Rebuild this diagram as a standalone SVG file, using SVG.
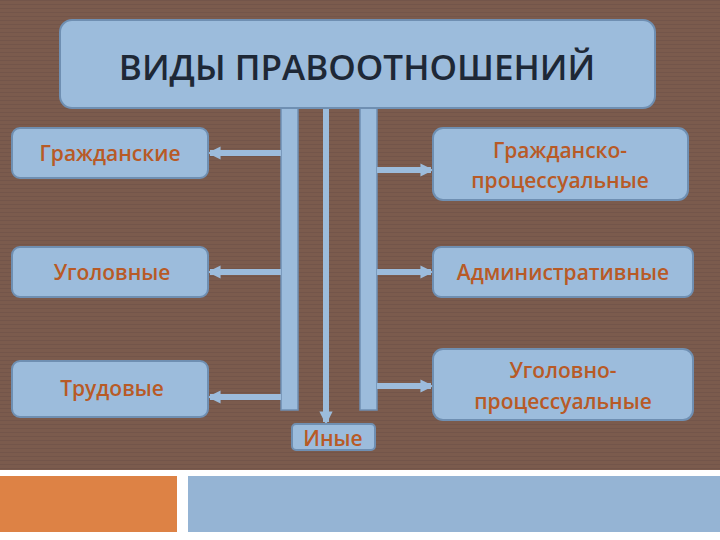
<svg xmlns="http://www.w3.org/2000/svg" width="720" height="540" viewBox="0 0 720 540">
<defs>
<style>
.n{fill:#9cbcdc;stroke:#6f8fb2;stroke-width:2}
.t{font-family:"Open Sans","DejaVu Sans",sans-serif;font-size:21px;font-weight:600;fill:#b85a26;text-anchor:middle}
.bar{fill:#9cbcdc;stroke:#6f8fb2;stroke-width:1.5}
.ar{stroke:#9cbcdc;stroke-width:6;fill:none}
</style>
<marker id="ah" viewBox="0 0 10 10" refX="8" refY="5" markerWidth="2.2" markerHeight="2.2" orient="auto"><path d="M0,0L10,5L0,10z" fill="#9cbcdc"/></marker>
<pattern id="st" width="4" height="4" patternUnits="userSpaceOnUse"><rect width="4" height="4" fill="#7b5b4d"/><rect width="4" height="1" fill="#73554a"/></pattern>
</defs>
<rect width="720" height="540" fill="#ffffff"/>
<rect x="0" y="0" width="720" height="470" fill="url(#st)"/>
<rect x="0" y="476" width="177" height="56" fill="#dd8245"/>
<rect x="188" y="476" width="532" height="56" fill="#95b4d4"/>
<g id="connectors">
<rect class="bar" x="281" y="108" width="17" height="302"/>
<rect class="bar" x="360" y="108" width="17" height="302"/>
<line class="ar" x1="326" y1="108" x2="326" y2="422" stroke-width="5" marker-end="url(#ah)"/>
<line class="ar" x1="281" y1="153" x2="210" y2="153" marker-end="url(#ah)"/>
<line class="ar" x1="281" y1="272" x2="210" y2="272" marker-end="url(#ah)"/>
<line class="ar" x1="281" y1="397" x2="210" y2="397" marker-end="url(#ah)"/>
<line class="ar" x1="377" y1="170" x2="431" y2="170" marker-end="url(#ah)"/>
<line class="ar" x1="377" y1="272" x2="431" y2="272" marker-end="url(#ah)"/>
<line class="ar" x1="377" y1="386" x2="431" y2="386" marker-end="url(#ah)"/>
</g>
<g id="title"><rect class="n" x="60" y="20" width="595" height="88" rx="12"/><text x="357" y="80" font-family="Open Sans,DejaVu Sans,sans-serif" font-size="35" font-weight="600" fill="#1e2836" text-anchor="middle">ВИДЫ ПРАВООТНОШЕНИЙ</text></g>
<g id="n1"><rect class="n" x="12" y="128" width="196" height="50" rx="8"/><text class="t" x="110" y="161">Гражданские</text></g>
<g id="n2"><rect class="n" x="433" y="128" width="255" height="72" rx="10"/><text class="t" x="560" y="158">Гражданско-</text><text class="t" x="560" y="188">процессуальные</text></g>
<g id="n3"><rect class="n" x="12" y="247" width="196" height="50" rx="8"/><text class="t" x="112" y="280">Уголовные</text></g>
<g id="n4"><rect class="n" x="433" y="247" width="260" height="50" rx="8"/><text class="t" x="563" y="280">Административные</text></g>
<g id="n5"><rect class="n" x="12" y="361" width="196" height="56" rx="8"/><text class="t" x="112" y="396">Трудовые</text></g>
<g id="n6"><rect class="n" x="433" y="349" width="260" height="71" rx="10"/><text class="t" x="563" y="378">Уголовно-</text><text class="t" x="563" y="409">процессуальные</text></g>
<g id="n7"><rect class="n" x="292" y="424" width="83" height="26" rx="4"/><text class="t" x="333" y="446">Иные</text></g>
</svg>
